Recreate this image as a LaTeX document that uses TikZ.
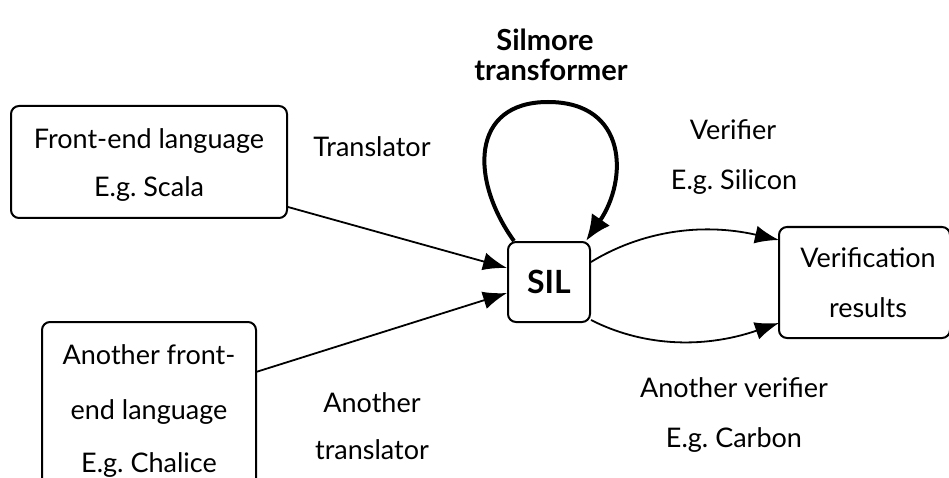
\documentclass[tikz,border=0pt]{standalone}
\usepackage{fontspec}
\setmainfont{Lato}
\frenchspacing
\usetikzlibrary{arrows.meta}
\begin{document}
\begin{tikzpicture}[x=1pt,y=-1pt,
  every node/.style={font=\fontsize{27}{32}\selectfont},
  box/.style={draw, line width=2pt, rounded corners=8pt, align=center, inner sep=0pt},
  conn/.style={line width=1.8pt, -{Latex[length=24pt,width=18pt]}},
  loopline/.style={line width=4pt, -{Latex[length=26pt,width=22pt]}},
  lines/.style={text height=20pt, text depth=6pt},
  boldlbl/.style={font=\fontsize{29}{34}\selectfont\bfseries, text height=21pt, text depth=1pt, inner sep=1pt}
]
\path[use as bounding box] (0,0) rectangle (949,478);

% front-end boxes
\node[box, minimum width=276pt, minimum height=112pt] (fe) at (149,162) {};
\node[lines] (fe1) at (149,142) {Front-end language};
\node[lines] (fe2) at (149,190) {E.g. Scala};

\draw[line width=2pt, rounded corners=8pt] (42,486) -- (42,322) -- (256,322) -- (256,486);
\coordinate (ch) at (256,372);
\node[lines] (ch1) at (149,357) {Another front-};
\node[lines] (ch2) at (149,412) {end language};
\node[lines] (ch3) at (149,465) {E.g. Chalice};

% intermediate language
\node[box, minimum width=82pt, minimum height=80pt, font=\fontsize{32}{36}\selectfont\bfseries] (sil) at (549,282) {SIL};

% results box
\draw[line width=2pt, rounded corners=8pt] (779,227) rectangle (950,338);
\coordinate (vr) at (779,282);
\node[lines] (vr1) at (868,260) {Verification};
\node[lines] (vr2) at (868,310) {results};

% labels
\node[boldlbl] (st1) at (545,41) {Silmore};
\node[boldlbl] (st2) at (551,71) {transformer};
\node[lines] (tr) at (372,150) {Translator};
\node[lines] (at1) at (372,405) {Another};
\node[lines] (at2) at (372,452) {translator};
\node[lines] (v1) at (733,133) {Verifier};
\node[lines] (v2) at (734,183) {E.g. Silicon};
\node[lines] (av1) at (734,390) {Another verifier};
\node[lines] (av2) at (734,440) {E.g. Carbon};

% connectors
\draw[conn] (fe.east |- 0,207) -- (sil.west |- 0,268);
\draw[conn] (ch) -- (sil.west |- 0,293);
\draw[conn] (sil.east |- 0,262) .. controls (640,232) and (700,222) .. (vr.west |- 0,240);
\draw[conn] (sil.east |- 0,320) .. controls (640,345) and (700,350) .. (vr.west |- 0,323);
\draw[loopline] (sil.north west) ++(7,0) .. controls (470,180) and (470,102) .. (548,102)
  .. controls (628,102) and (628,180) .. ([xshift=-5pt]sil.north east);
\end{tikzpicture}
\end{document}
